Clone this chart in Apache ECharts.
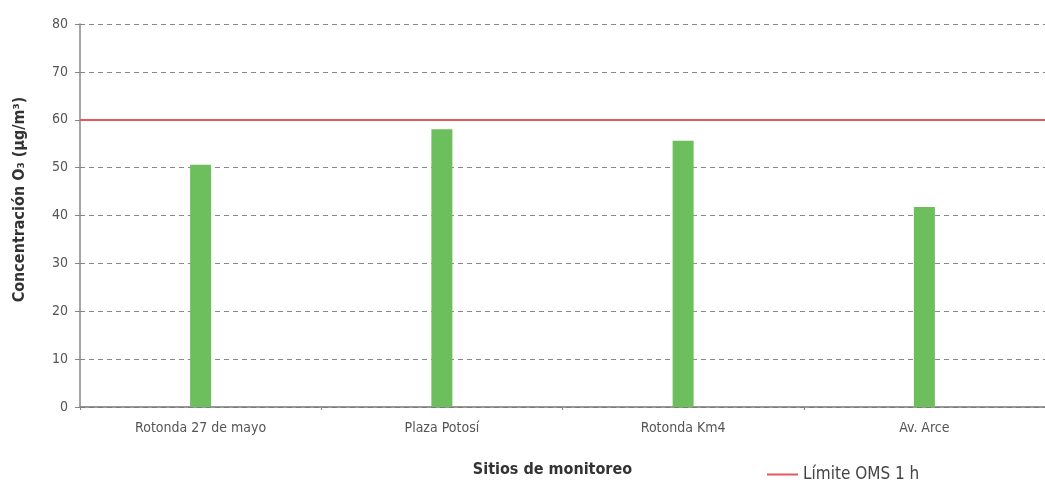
<!DOCTYPE html>
<html><head><meta charset="utf-8">
<script src="https://cdn.jsdelivr.net/npm/echarts@6/dist/echarts.min.js"></script>
<style>html,body{margin:0;padding:0;background:#fff}#c{width:1045px;height:483px}</style>
</head><body><div id="c"></div>
<script>
const categories = ["Rotonda 27 de mayo", "Plaza Potosí", "Rotonda Km4", "Av. Arce"];
const values = [50.6, 58.0, 55.6, 41.8];
const limitValue = 60;
const limitName = "Límite OMS 1 h";
const yTicks = [0, 80, 10];
const FONT = "'Liberation Sans Narrow', 'DejaVu Sans Condensed', sans-serif";

const chart = echarts.init(document.getElementById('c'), null, {renderer: 'canvas'});
chart.setOption({
  animation: false,
  textStyle: {fontFamily: FONT},
  grid: {left: 80, top: 24, width: 972, height: 385, containLabel: false},
  legend: {
    data: [{name: limitName, icon: 'rect'}],
    left: 762, top: 461, itemWidth: 31, itemHeight: 2, itemGap: 4,
    textStyle: {fontFamily: FONT, fontSize: 17, color: '#444'}
  },
  xAxis: {
    type: 'category', data: categories,
    name: 'Sitios de monitoreo', nameLocation: 'middle', nameGap: 55,
    nameTextStyle: {fontFamily: FONT, fontSize: 16, fontWeight: 'bold', color: '#333', padding: [0, 0, 0, -20]},
    axisLine: {lineStyle: {color: '#777', width: 1.5}},
    axisTick: {show: true, length: 3, lineStyle: {color: '#888'}},
    axisLabel: {fontFamily: FONT, fontSize: 14, color: '#555', margin: 14}
  },
  yAxis: {
    type: 'value', min: yTicks[0], max: yTicks[1], interval: yTicks[2],
    name: 'Concentración O\u2083 (\u00B5g/m\u00B3)', nameLocation: 'middle', nameGap: 52,
    nameTextStyle: {fontFamily: FONT, fontSize: 16, fontWeight: 'bold', color: '#333', padding: [0, 0, 0, 32]},
    axisLine: {show: true, lineStyle: {color: '#888', width: 1.5}},
    axisTick: {show: true, length: 5, lineStyle: {color: '#888'}},
    axisLabel: {fontFamily: FONT, fontSize: 14, color: '#555', margin: 12},
    splitLine: {show: true, lineStyle: {color: '#888', type: [5, 4], width: 1}}
  },
  series: [
    {
      type: 'bar', name: 'O3', data: values, barWidth: 21,
      itemStyle: {color: '#6cbf5c'}
    },
    {
      type: 'line', name: limitName, data: [],
      itemStyle: {color: '#e4595a'}, lineStyle: {color: '#e4595a'},
      markLine: {
        silent: true, symbol: 'none', label: {show: false},
        lineStyle: {color: '#e4595a', width: 2, type: 'solid'},
        data: [{yAxis: limitValue}]
      }
    }
  ]
});
</script></body></html>
